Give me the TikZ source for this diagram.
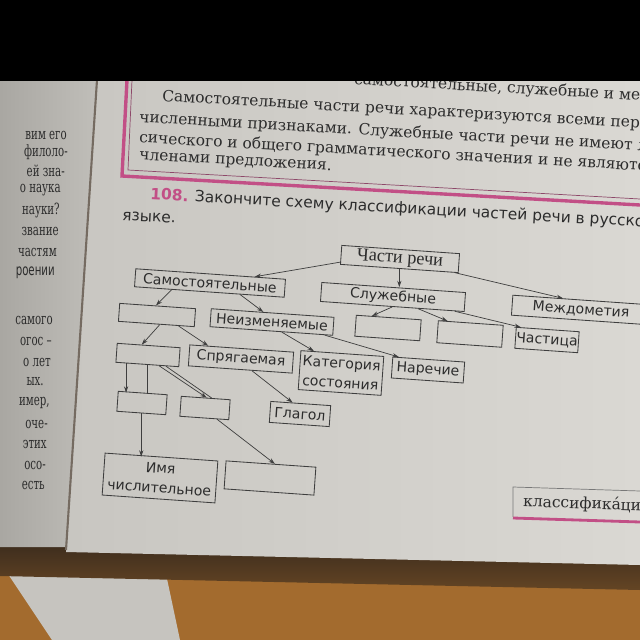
\documentclass[tikz,border=0pt]{standalone}
\usepackage{fontspec}
\setmainfont{DejaVu Serif}
\newfontfamily\labelfont{DejaVu Sans}
\newfontfamily\titlefont{Liberation Serif}
\usepackage{graphicx}
\usepackage{xcolor}
\usetikzlibrary{arrows.meta}

\definecolor{ink}{HTML}{3E3E3E}
\definecolor{type}{HTML}{2C2C2C}
\definecolor{pinkline}{HTML}{C24F86}
\definecolor{pageL}{HTML}{C8C6C1}
\definecolor{pageR}{HTML}{DAD8D3}
\definecolor{leftL}{HTML}{A9A7A2}
\definecolor{leftR}{HTML}{C0BEB9}
\definecolor{wood}{HTML}{A36B2E}
\definecolor{cloth}{HTML}{C6C4BF}
\definecolor{gap}{HTML}{3A2B1D}

\begin{document}
\begin{tikzpicture}[x=0.025cm, y=-0.025cm,
    box/.style={draw=ink, line width=0.6pt, inner sep=0pt, rotate=-4, text=type, align=center,
      font=\labelfont\fontsize{10}{14}\selectfont},
    link/.style={draw=ink, line width=0.5pt, -{Stealth[length=4.5pt, width=3pt]}},
    wire/.style={draw=ink, line width=0.5pt},
    row/.style={anchor=west, inner sep=0pt, rotate=-3.2, text=type, font=\fontsize{11}{13}\selectfont},
    side/.style={anchor=east, inner sep=0pt, text=type, font=\fontsize{11}{13}\selectfont}
  ]
  \clip (0,0) rectangle (640,640);
  \fill[wood] (0,530) rectangle (640,640);
  \fill[cloth] (8,574) -- (166,574) -- (180,640) -- (52,640) -- cycle;
  \shade[top color=gap, bottom color=gap!60!wood] (0,540) -- (640,556) -- (640,590) -- (0,576) -- cycle;
  \shade[left color=leftL, right color=leftR] (0,80) -- (97,80) -- (66,547) -- (0,547) -- cycle;
  \shade[left color=pageL, right color=pageR] (97,80) -- (640,80) -- (640,565) -- (66,552) -- cycle;
  \draw[gap!70, line width=1.5pt] (97,80) -- (66,550);

  \foreach [count=\i] \word/\rx/\ry in {вим его/67/135, филоло-/68/152, ей зна-/65/171, о наука/61/190,
      науки?/60/210, звание/59/231, частям/57/252, самого/53/320, огос~--/52/341, о лет/51/362,
      ых./44/382, {имер,}/50/403, оче-/48/424, этих/47/444, осо-/46/465, есть/45/485}
    \node[side] (side\i) at (\rx,\ry) {\scalebox{0.66}[1]{\word}};
  \node[side, font=\labelfont\fontsize{11}{13}\selectfont] (sidehead) at (55,273) {\scalebox{0.66}[1]{роении}};

  \node[row] (rule0) at (354,80) {самостоятельные, служебные и междометия};
  \node[row] (rule1) at (162,97) {Самостоятельные части речи характеризуются всеми пере-};
  \node[row] (rule2) at (139,118) {численными признаками. Служебные части речи не имеют лек-};
  \node[row] (rule3) at (139,138) {сического и общего грамматического значения и не являются};
  \node[row] (rule4) at (139,157) {членами предложения.};
  \draw[pinkline, line width=2.4pt] (127,80) -- (122,176) -- (640,205);
  \draw[pinkline!60!ink, line width=0.5pt] (132,80) -- (128,170) -- (640,199);

  \node[row, font=\labelfont\fontsize{11}{13}\selectfont] (task) at (150,195)
    {{\color{pinkline}\bfseries 108.} Закончите схему классификации частей речи в русском};
  \node[row, font=\labelfont\fontsize{11}{13}\selectfont] (task2) at (122,216) {языке.};

  \node[box, font=\titlefont\fontsize{13}{14}\selectfont, minimum width=2.95cm, minimum height=0.475cm] (chast) at (400,259) {Части речи};
  \node[box, minimum width=3.75cm, minimum height=0.45cm] (samost) at (210,283) {Самостоятельные};
  \node[box, minimum width=3.6cm, minimum height=0.475cm] (sluzh) at (393,297) {Служебные};
  \node[box, minimum width=3.45cm, minimum height=0.5cm] (mezh) at (581,310) {Междометия};
  \node[box, minimum width=1.9cm, minimum height=0.45cm] (blank1) at (157,315) {};
  \node[box, minimum width=3.075cm, minimum height=0.45cm] (neizm) at (272,322) {Неизменяемые};
  \node[box, minimum width=1.575cm, minimum height=0.475cm] (blank2) at (148,355) {};
  \node[box, minimum width=2.6cm, minimum height=0.525cm] (sprag) at (241,359) {Спрягаемая};
  \node[box, minimum width=2.075cm, minimum height=0.975cm] (kateg) at (341,373) {Категория\\состояния};
  \node[box, minimum width=1.8cm, minimum height=0.525cm] (narech) at (428,370) {Наречие};
  \node[box, minimum width=1.625cm, minimum height=0.525cm] (blank3) at (388,328) {};
  \node[box, minimum width=1.625cm, minimum height=0.55cm] (blank4) at (470,334) {};
  \node[box, minimum width=1.575cm, minimum height=0.525cm] (chastica) at (547,340) {Частица};
  \node[box, minimum width=1.225cm, minimum height=0.5cm] (blank5) at (142,403) {};
  \node[box, minimum width=1.225cm, minimum height=0.5cm] (blank6) at (205,408) {};
  \node[box, minimum width=1.5cm, minimum height=0.525cm] (glagol) at (300,414) {Глагол};
  \node[box, minimum width=2.825cm, minimum height=1.05cm] (chisl) at (160,478) {Имя\\числительное};
  \node[box, minimum width=2.25cm, minimum height=0.7cm] (blank7) at (270,478) {};

  \draw[link] (chast.187) -- (samost.12);
  \draw[link] (chast.south) -- (chast.south |- sluzh.north);
  \draw[link] (chast.-10) -- (mezh.151);
  \draw[link] (samost.194) -- (blank1.100);
  \draw[link] (samost.-17) -- (neizm.135);
  \draw[link] (blank1.-70) -- (blank2.125);
  \draw[link] (blank1.-23) -- (sprag.162);
  \draw[link] (blank2.205) -- (blank2.205 |- blank5.north);
  \draw[wire] (blank2.south) -- (blank2.south |- blank5.north);
  \draw[link] (blank5.south) -- (blank5.south |- chisl.north);
  \draw[link] (blank2.-40) -- (blank6.85);
  \draw[wire] (blank2.-28) -- (blank6.60);
  \draw[link] (blank6.-39) -- (blank7.75);
  \draw[link] (sprag.-43) -- (glagol.127);
  \draw[link] (neizm.-42) -- (kateg.145);
  \draw[link] (neizm.-10) -- (narech.160);
  \draw[link] (sluzh.south) -- (blank3.147);
  \draw[link] (sluzh.-21) -- (blank4.154);
  \draw[link] (sluzh.-9) -- (chastica.158);

  \draw[ink!70, line width=0.5pt] (640,491) -- (513,487) -- (513,517);
  \draw[pinkline, line width=2pt] (513,518) -- (640,522);
  \node[row, rotate=1.2] (margin) at (523,502) {классифика́ции};

  \fill[black] (0,0) rectangle (640,81);
\end{tikzpicture}
\end{document}
